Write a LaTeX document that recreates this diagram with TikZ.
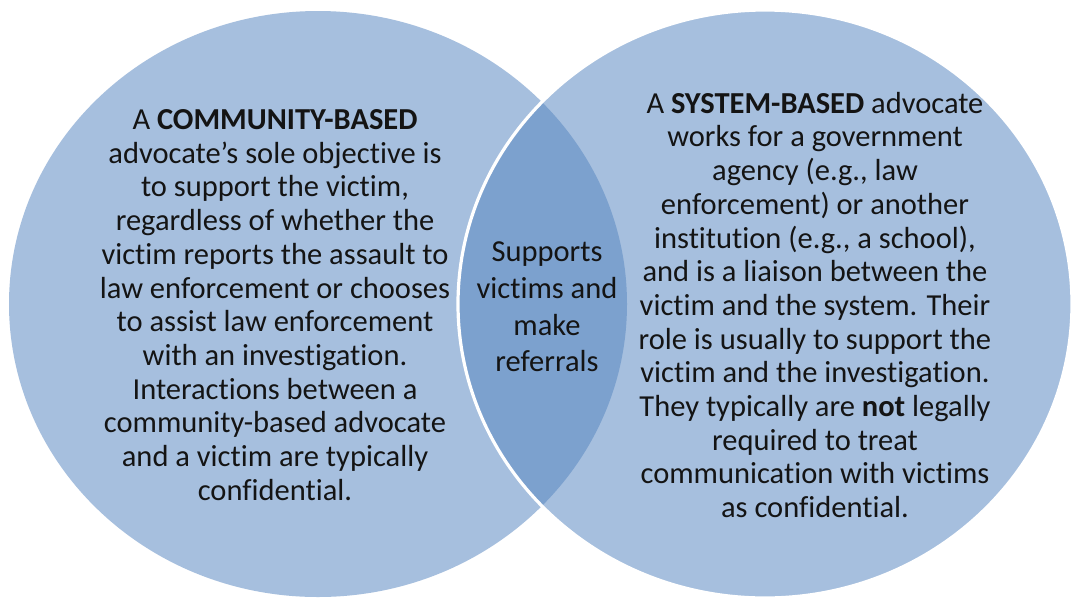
\documentclass[tikz,border=0pt]{standalone}
\usepackage{fontspec}
\setmainfont{Carlito}[Ligatures=NoCommon]
\definecolor{circfill}{RGB}{166,191,222}
\definecolor{lensfill}{RGB}{124,161,206}
\definecolor{txt}{RGB}{20,20,20}
\tikzset{
  circ/.style={fill=circfill},
  lens/.style={fill=lensfill},
  rim/.style={draw=white, line width=3.2pt},
  body/.style={align=center, text=txt, font=\fontsize{30.5}{33.7}\selectfont, inner sep=0pt},
  mid/.style={align=center, text=txt, font=\fontsize{30.5}{36.7}\selectfont, inner sep=0pt}
}
\begin{document}
\begin{tikzpicture}[x=1pt,y=-1pt]
\useasboundingbox (0,0) rectangle (1074,598);
\fill[white] (0,0) rectangle (1074,598);
% circles
\fill[circ] (318,304) ellipse [x radius=309, y radius=293];
\fill[circ] (765,304) ellipse [x radius=307, y radius=294];
\begin{scope}
  \clip (318,304) ellipse [x radius=309, y radius=293];
  \fill[lens] (765,304) ellipse [x radius=307, y radius=294];
\end{scope}
\draw[rim] (765,304) ellipse [x radius=307, y radius=294];
% texts
\node[body] (left) at (275,305) {A \textbf{COMMUNITY-BASED}\\
advocate’s sole objective is\\
to support the victim,\\
regardless of whether the\\
victim reports the assault to\\
law enforcement or chooses\\
to assist law enforcement\\
with an investigation.\\
Interactions between a\\
community-based advocate\\
and a victim are typically\\
confidential.};
\node[body] (right) at (815,305) {A \textbf{SYSTEM-BASED} advocate\\
works for a government\\
agency (e.g., law\\
enforcement) or another\\
institution (e.g., a school),\\
and is a liaison between the\\
victim and the system. Their\\
role is usually to support the\\
victim and the investigation.\\
They typically are \textbf{not} legally\\
required to treat\\
communication with victims\\
as confidential.};
\node[mid] (center) at (547,307) {Supports\\ victims and\\ make\\ referrals};
\end{tikzpicture}
\end{document}
